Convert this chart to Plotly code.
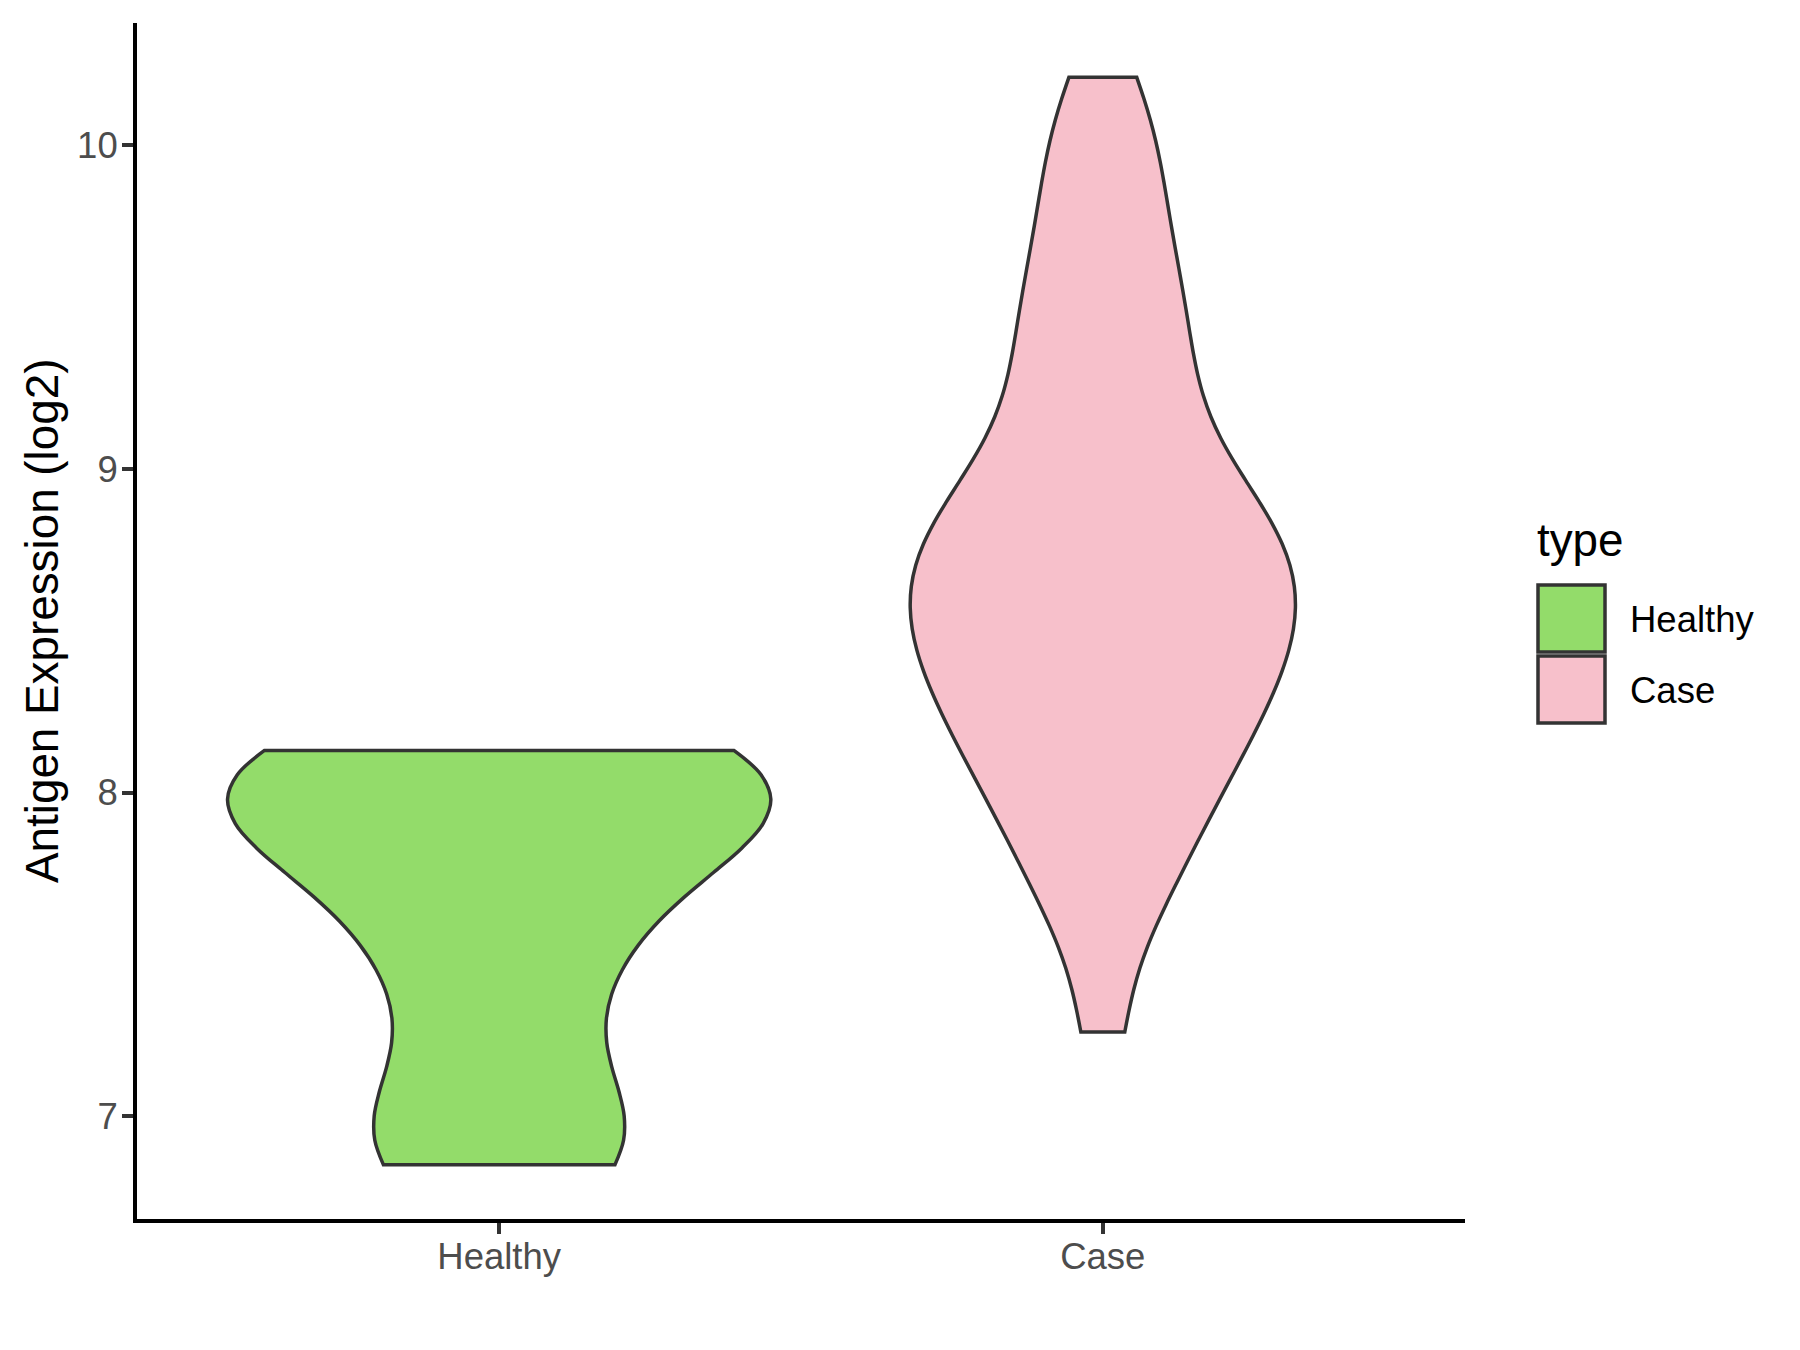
import plotly.graph_objects as go

# ---- data ----
categories = ["Healthy", "Case"]
healthy_values = [6.85, 6.91, 7.02, 7.42, 7.55, 7.80, 7.92, 7.95, 8.00, 8.07, 8.10, 8.13]
case_values = [7.26, 7.57, 7.69, 7.78, 7.88, 7.95, 8.01, 8.07, 8.13, 8.18,
               8.23, 8.27, 8.32, 8.36, 8.40, 8.44, 8.48, 8.52, 8.55, 8.59,
               8.63, 8.66, 8.70, 8.74, 8.77, 8.81, 8.86, 8.90, 8.95, 8.99,
               9.08, 9.15, 9.24, 9.32, 9.41, 9.49, 9.58, 9.68, 9.80, 9.93,
               10.04, 10.21]
y_tick_values = [7, 8, 9, 10]
legend_title = "type"
y_title = "Antigen Expression (log2)"

# ---- style ----
fill_colors = {"Healthy": "#93DC6A", "Case": "#F7C0CB"}
bandwidths = {"Healthy": 0.24, "Case": 0.20}
max_widths = {"Healthy": 0.9, "Case": 0.9 * 0.709}
outline = "#333333"
font_family = "Liberation Sans, Arial, sans-serif"

W, H = 1800, 1350
ML, MR, MT, MB = 137, 335, 23, 131
PW, PH = W - ML - MR, H - MT - MB


def px_x(px):
    return (px - ML) / PW


def px_y(py):
    return 1 - (py - MT) / PH


fig = go.Figure()
for name, vals in zip(categories, [healthy_values, case_values]):
    fig.add_trace(go.Violin(
        x=[name] * len(vals), y=vals, name=name,
        bandwidth=bandwidths[name], spanmode="hard",
        width=max_widths[name], scalemode="width", scalegroup=name,
        points=False, box_visible=False, meanline_visible=False,
        line=dict(color=outline, width=3.5), fillcolor=fill_colors[name],
        opacity=1, showlegend=False, hoverinfo="skip",
    ))

axis_common = dict(
    showline=True, linecolor="black", linewidth=4,
    ticks="outside", ticklen=11, tickwidth=4, tickcolor=outline,
    tickfont=dict(size=36.5, color="#4D4D4D", family=font_family),
    showgrid=False, zeroline=False,
)

fig.update_layout(
    width=W, height=H,
    margin=dict(l=ML, r=MR, t=MT, b=MB),
    paper_bgcolor="white", plot_bgcolor="white",
    violinmode="overlay",
    font=dict(family=font_family, color="black"),
    xaxis=dict(type="category", categoryorder="array", categoryarray=categories,
               range=[-0.6, 1.6], ticklabelstandoff=-9, **axis_common),
    yaxis=dict(range=[6.682, 10.378], tickvals=y_tick_values,
               ticklabelstandoff=-3, **axis_common),
    showlegend=False,
)

# ---- y axis title ----
fig.add_annotation(xref="paper", yref="paper", x=px_x(42), y=0.5,
                   text=y_title, textangle=-90, showarrow=False,
                   xanchor="center", yanchor="middle",
                   font=dict(size=45.8, color="black"))

# ---- manual legend (ggplot style keys) ----
key_rows = [("Healthy", 585, 652, 619), ("Case", 656, 723, 690)]
for name, top, bottom, mid in key_rows:
    fig.add_shape(type="rect", xref="paper", yref="paper",
                  x0=px_x(1538), x1=px_x(1605), y0=px_y(bottom), y1=px_y(top),
                  fillcolor=fill_colors[name], line=dict(color=outline, width=3.5))
    fig.add_annotation(xref="paper", yref="paper", x=px_x(1628), y=px_y(mid),
                       text=name, showarrow=False, xanchor="left", yanchor="middle",
                       font=dict(size=36.5, color="black"))
fig.add_annotation(xref="paper", yref="paper", x=px_x(1535), y=px_y(540),
                   text=legend_title, showarrow=False, xanchor="left", yanchor="middle",
                   font=dict(size=45.8, color="black"))

fig.write_html("out.html", config={"displayModeBar": False},
               post_script="document.body.style.margin='0';")
